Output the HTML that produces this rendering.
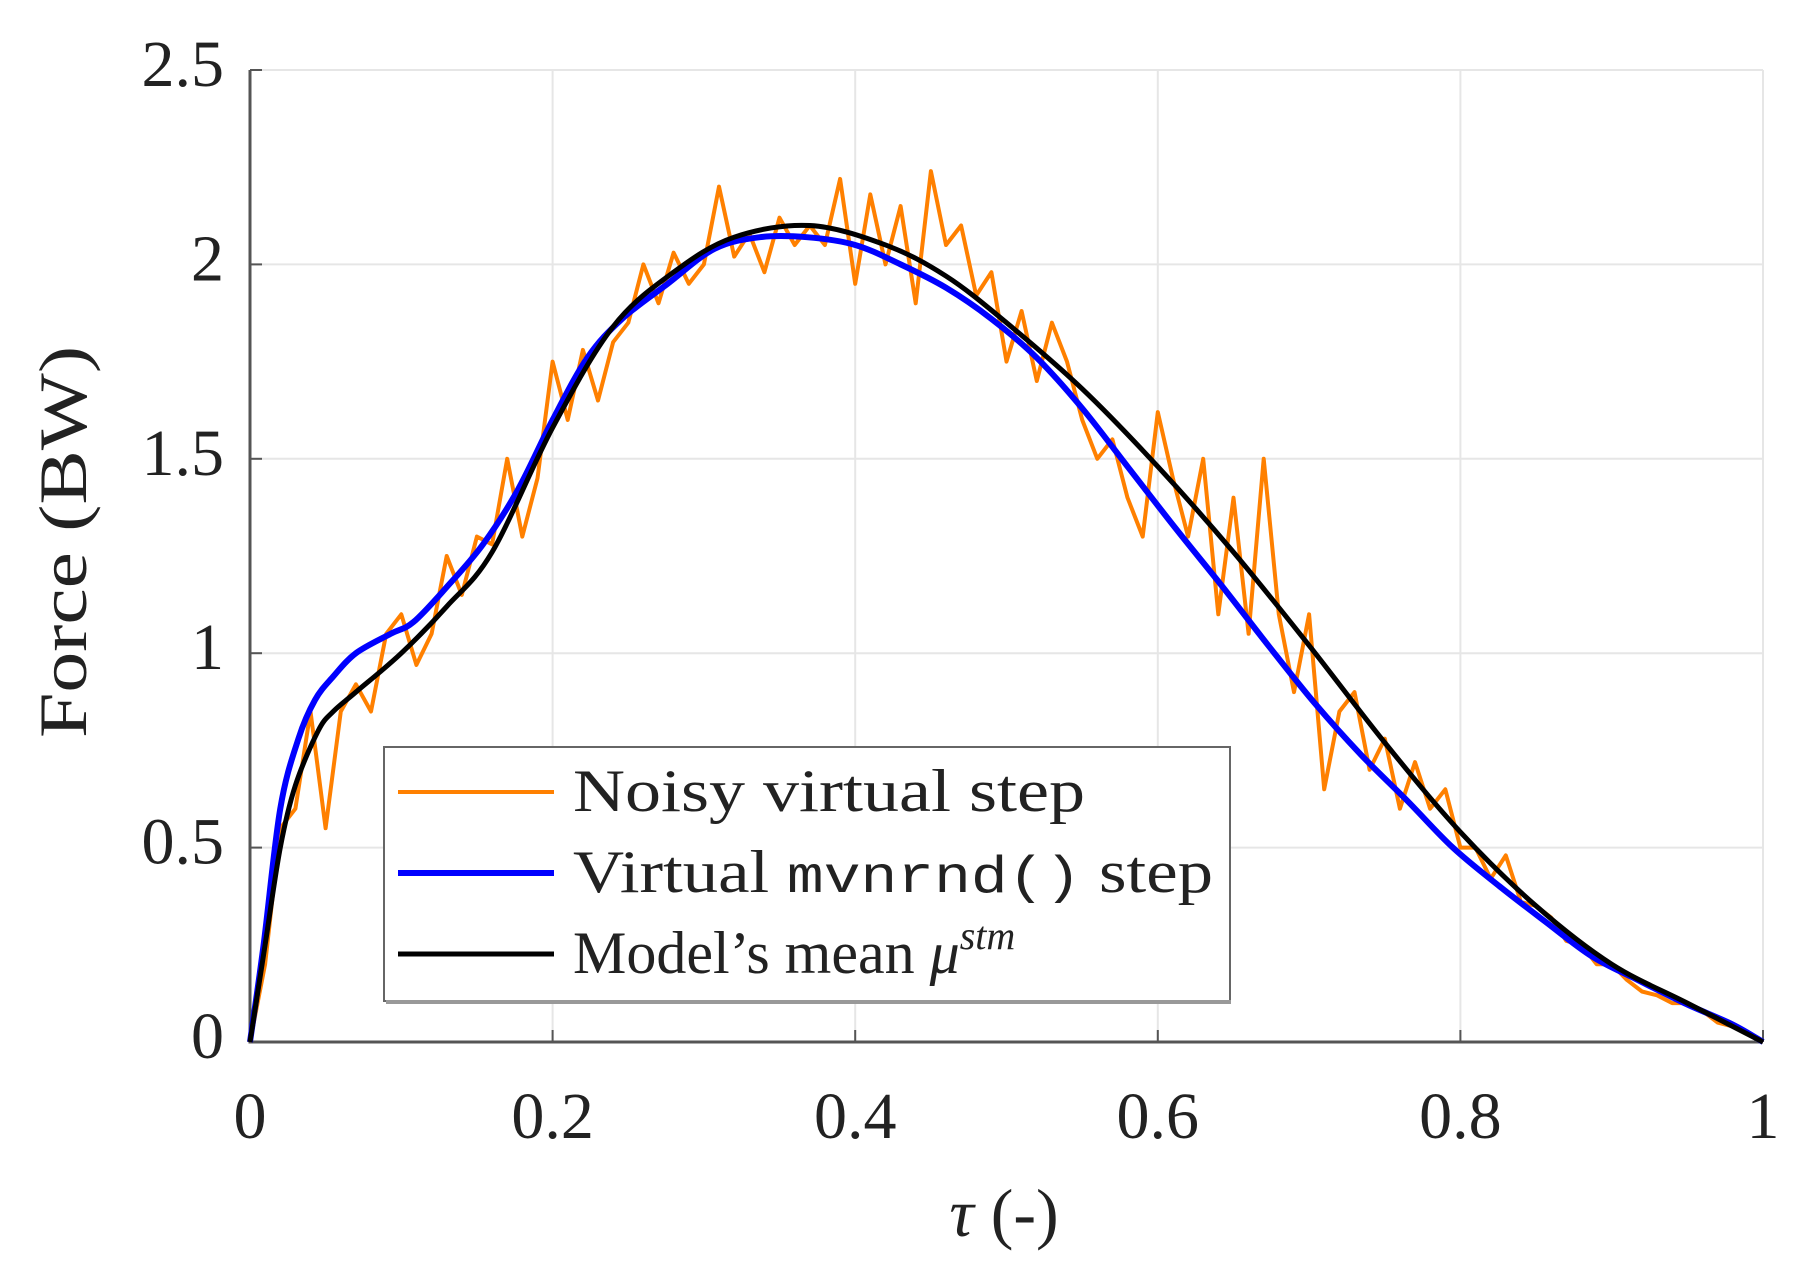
<!DOCTYPE html>
<html><head><meta charset="utf-8"><style>
html,body{margin:0;padding:0;background:#fff;}
svg{display:block;}
text{font-family:"Liberation Serif",serif;fill:#222;}
</style></head><body>
<svg id="chart" width="1809" height="1278" viewBox="0 0 1809 1278" xmlns="http://www.w3.org/2000/svg">
<g id="grid"></g>
<g id="axes"></g>
<g id="series"></g>
<text transform="translate(86,542) rotate(-90)" text-anchor="middle" font-size="68" textLength="392" lengthAdjust="spacingAndGlyphs">Force (BW)</text>
<text x="1004" y="1236" text-anchor="middle" font-size="68"><tspan font-style="italic">τ</tspan>  (-)</text>
<g>
<rect x="384" y="747" width="846" height="254" fill="#fff" stroke="#666" stroke-width="2"/>
<line x1="386" y1="1002" x2="1231" y2="1002" stroke="#999" stroke-width="4"/>
<g>
<line x1="398" y1="792" x2="554" y2="792" stroke="#ff8000" stroke-width="4"/>
<text x="573" y="811" font-size="60" textLength="512" lengthAdjust="spacingAndGlyphs">Noisy virtual step</text></g>
<g>
<line x1="398" y1="873" x2="554" y2="873" stroke="#0000ff" stroke-width="6"/>
<text x="573" y="892" font-size="60" textLength="640" lengthAdjust="spacingAndGlyphs">Virtual <tspan font-family="Liberation Mono, monospace" font-size="52">mvnrnd()</tspan> step</text></g>
<g>
<line x1="398" y1="954" x2="554" y2="954" stroke="#000" stroke-width="5"/>
<text x="573" y="973" font-size="60">Model’s mean <tspan font-style="italic">μ</tspan><tspan font-style="italic" font-size="40" dy="-24">stm</tspan></text></g>
</g>
</svg>
<script>
const xTicks=[0,0.2,0.4,0.6,0.8,1];
const xTickLabels=["0","0.2","0.4","0.6","0.8","1"];
const yTicks=[0,0.5,1,1.5,2,2.5];
const yTickLabels=["0","0.5","1","1.5","2","2.5"];
const blueTau=[0,0.009,0.02,0.032,0.043,0.055,0.07,0.093,0.108,0.13,0.154,0.177,0.2,0.223,0.246,0.276,0.307,0.337,0.368,0.4,0.43,0.46,0.49,0.52,0.55,0.58,0.612,0.643,0.673,0.704,0.734,0.765,0.795,0.826,0.856,0.887,0.917,0.948,0.98,1];
const blueVal=[0,0.25,0.6,0.78,0.88,0.94,1.0,1.05,1.08,1.17,1.28,1.42,1.6,1.76,1.86,1.95,2.04,2.07,2.07,2.05,2.0,1.94,1.86,1.76,1.63,1.48,1.32,1.17,1.02,0.87,0.74,0.62,0.5,0.4,0.31,0.22,0.16,0.1,0.045,0];
const meanTau=[0,0.01,0.02,0.03,0.045,0.055,0.07,0.1,0.13,0.16,0.2,0.24,0.28,0.32,0.37,0.42,0.46,0.5,0.55,0.6,0.65,0.7,0.75,0.8,0.85,0.9,0.95,1];
const meanVal=[0,0.25,0.5,0.66,0.8,0.85,0.9,1.0,1.12,1.26,1.58,1.84,1.98,2.07,2.1,2.05,1.97,1.85,1.68,1.48,1.26,1.02,0.77,0.54,0.35,0.2,0.1,0];
const noisyVal=[0,0.2,0.55,0.6,0.85,0.55,0.85,0.92,0.85,1.05,1.1,0.97,1.05,1.25,1.15,1.3,1.28,1.5,1.3,1.45,1.75,1.6,1.78,1.65,1.8,1.85,2.0,1.9,2.03,1.95,2.0,2.2,2.02,2.08,1.98,2.12,2.05,2.1,2.05,2.22,1.95,2.18,2.0,2.15,1.9,2.24,2.05,2.1,1.92,1.98,1.75,1.88,1.7,1.85,1.75,1.6,1.5,1.55,1.4,1.3,1.62,1.45,1.3,1.5,1.1,1.4,1.05,1.5,1.1,0.9,1.1,0.65,0.85,0.9,0.7,0.78,0.6,0.72,0.6,0.65,0.5,0.5,0.42,0.48,0.36,0.35,0.32,0.26,0.25,0.2,0.2,0.16,0.13,0.12,0.1,0.1,0.08,0.05,0.04,0.02,0];

const NS="http://www.w3.org/2000/svg";
const X0=250,X1=1763,Y0=1042,Y1=70;
function xs(t){return X0+t*(X1-X0);}
function ys(v){return Y0-v/2.5*(Y0-Y1);}
function mk(tag,attrs,parent){const e=document.createElementNS(NS,tag);for(const k in attrs)e.setAttribute(k,attrs[k]);parent.appendChild(e);return e;}
const grid=document.getElementById('grid'),axes=document.getElementById('axes'),series=document.getElementById('series');
xTicks.forEach((t,i)=>{
  const g=mk('line',{x1:xs(t),y1:Y0,x2:xs(t),y2:Y1,stroke:'#e6e6e6','stroke-width':2},grid);
  
  
  const tk=mk('line',{x1:xs(t),y1:Y0,x2:xs(t),y2:Y0-12,stroke:'#555','stroke-width':2},axes);
  
  
  const lb=mk('text',{x:xs(t),y:1138,'text-anchor':'middle','font-size':66},axes);
  lb.textContent=xTickLabels[i];
  
  
});
yTicks.forEach((v,i)=>{
  const g=mk('line',{x1:X0,y1:ys(v),x2:X1,y2:ys(v),stroke:'#e6e6e6','stroke-width':2},grid);
  
  
  const tk=mk('line',{x1:X0,y1:ys(v),x2:X0+12,y2:ys(v),stroke:'#555','stroke-width':2},axes);
  
  
  const lb=mk('text',{x:224,y:ys(v)+16,'text-anchor':'end','font-size':66},axes);
  lb.textContent=yTickLabels[i];
  
  
});
const ax=mk('path',{d:`M${X0},${Y1} L${X0},${Y0} L${X1},${Y0}`,fill:'none',stroke:'#555','stroke-width':3},axes);


function pathFrom(ts,vs){return ts.map((t,i)=>(i?'L':'M')+xs(t).toFixed(1)+','+ys(vs[i]).toFixed(1)).join(' ');}
const noisyTau=noisyVal.map((_,i)=>i/(noisyVal.length-1));
const pn=mk('path',{d:pathFrom(noisyTau,noisyVal),fill:'none',stroke:'#ff8000','stroke-width':4,'stroke-linejoin':'round'},series);


function smooth(ts,vs){const p=ts.map((t,i)=>[xs(t),ys(vs[i])]);let d=`M${p[0][0]},${p[0][1]}`;for(let i=0;i<p.length-1;i++){const a=p[Math.max(0,i-1)],b=p[i],c=p[i+1],e=p[Math.min(p.length-1,i+2)];d+=` C${b[0]+(c[0]-a[0])/6},${b[1]+(c[1]-a[1])/6} ${c[0]-(e[0]-b[0])/6},${c[1]-(e[1]-b[1])/6} ${c[0]},${c[1]}`;}return d;}
const pb=mk('path',{d:smooth(blueTau,blueVal),fill:'none',stroke:'#0000ff','stroke-width':6},series);


const pm=mk('path',{d:smooth(meanTau,meanVal),fill:'none',stroke:'#000','stroke-width':5},series);


</script>
</body></html>
